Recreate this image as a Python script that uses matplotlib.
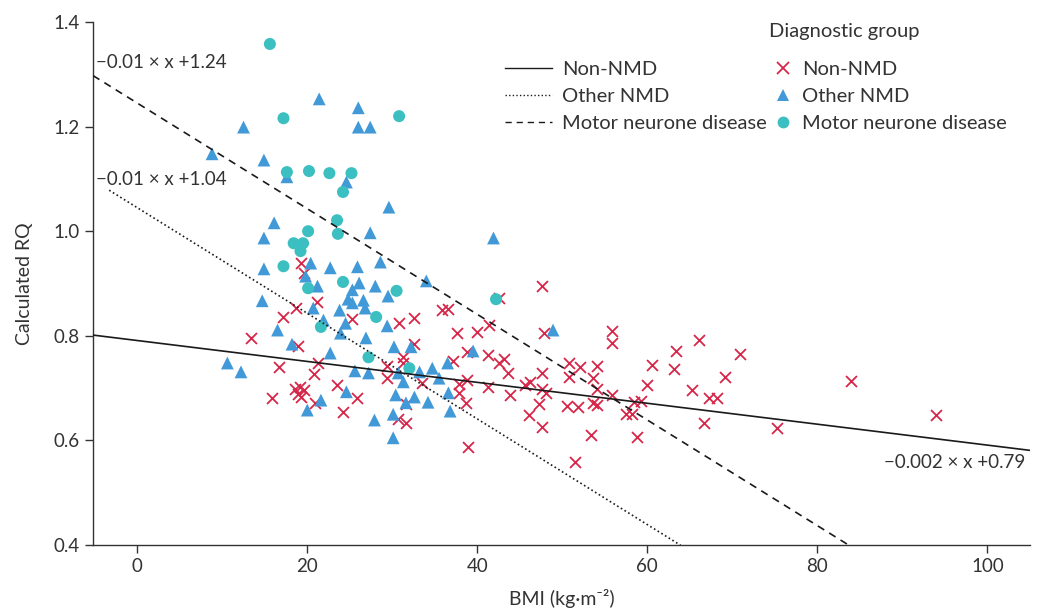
import numpy as np
import matplotlib
matplotlib.use("Agg")
import matplotlib.pyplot as plt
from matplotlib.lines import Line2D

plt.rcParams['font.family'] = ['Lato', 'DejaVu Sans']

# Data: BMI and calculated RQ per diagnostic group
non_nmd_bmi = [19.3, 19.6, 21.2, 18.7, 17.2, 25.3, 13.4, 18.9, 30.8, 32.6, 35.8, 36.6,
               16.7, 21.3, 20.8, 15.9, 18.6, 19.2, 19.6, 18.9, 19.3, 20.9, 23.5, 24.2,
               25.9, 29.4, 29.4, 31.3, 31.2, 32.5, 33.5, 31.6, 30.7, 31.6, 37.6, 37.1,
               37.8, 38.8, 37.9, 38.7, 38.9, 47.6, 42.6, 41.4, 40.0, 47.8, 55.8, 55.8,
               38.8, 41.3, 42.5, 43.1, 43.6, 41.3, 43.9, 45.6, 46.2, 47.6, 47.6, 48.1,
               47.3, 46.1, 47.6, 51.5, 50.8, 52.1, 54.1, 50.8, 53.6, 54.1, 50.5, 51.8,
               53.6, 54.1, 55.8, 53.4, 58.8, 58.4, 59.2, 57.5, 58.2, 60.0, 60.6, 63.1,
               63.4, 66.1, 70.9, 69.1, 65.3, 67.2, 68.2, 66.7, 75.3, 84.0, 94.0]
non_nmd_rq = [0.939, 0.920, 0.865, 0.853, 0.836, 0.832, 0.796, 0.780, 0.824, 0.834, 0.849, 0.851,
              0.740, 0.748, 0.727, 0.681, 0.698, 0.702, 0.696, 0.689, 0.683, 0.672, 0.706, 0.654,
              0.681, 0.742, 0.719, 0.759, 0.748, 0.784, 0.710, 0.670, 0.641, 0.633, 0.805, 0.752,
              0.708, 0.715, 0.691, 0.672, 0.587, 0.895, 0.872, 0.821, 0.807, 0.805, 0.809, 0.786,
              0.769, 0.763, 0.748, 0.756, 0.729, 0.702, 0.687, 0.706, 0.712, 0.729, 0.698, 0.691,
              0.670, 0.649, 0.626, 0.559, 0.748, 0.740, 0.742, 0.721, 0.719, 0.698, 0.666, 0.664,
              0.672, 0.668, 0.687, 0.610, 0.607, 0.673, 0.675, 0.650, 0.650, 0.706, 0.744, 0.737,
              0.771, 0.792, 0.765, 0.721, 0.696, 0.681, 0.681, 0.633, 0.624, 0.714, 0.649]

other_nmd_bmi = [8.8, 12.5, 21.4, 26.0, 26.0, 27.4, 14.9, 17.6, 24.6, 29.6, 16.1, 14.9,
                 27.4, 28.6, 34.0, 14.9, 20.4, 19.8, 22.7, 25.9, 21.2, 26.1, 28.0, 25.3,
                 29.5, 24.8, 25.3, 26.6, 26.8, 14.7, 20.7, 23.8, 21.9, 24.5, 23.9, 16.5,
                 18.2, 22.7, 12.2, 25.6, 24.6, 21.6, 20.0, 10.6, 27.2, 27.9, 30.1, 30.2,
                 32.2, 29.4, 26.9, 30.7, 31.3, 33.2, 34.7, 35.5, 36.5, 30.4, 32.6, 34.2,
                 31.6, 30.1, 36.6, 36.8, 39.5, 48.9, 41.9]
other_nmd_rq = [1.148, 1.199, 1.253, 1.236, 1.199, 1.199, 1.136, 1.104, 1.094, 1.046, 1.016, 0.987,
                0.997, 0.941, 0.905, 0.928, 0.939, 0.914, 0.930, 0.932, 0.895, 0.901, 0.895, 0.888,
                0.876, 0.870, 0.863, 0.868, 0.853, 0.867, 0.853, 0.849, 0.830, 0.824, 0.805, 0.811,
                0.784, 0.767, 0.731, 0.733, 0.693, 0.677, 0.658, 0.748, 0.729, 0.639, 0.605, 0.779,
                0.779, 0.819, 0.796, 0.729, 0.712, 0.731, 0.738, 0.719, 0.748, 0.687, 0.683, 0.673,
                0.672, 0.650, 0.691, 0.656, 0.771, 0.811, 0.987]

mnd_bmi = [15.6, 17.2, 30.8, 17.6, 20.2, 22.6, 25.2, 24.2, 18.4, 19.5, 19.2, 20.1,
           23.5, 23.6, 17.2, 20.1, 24.2, 21.6, 30.5, 28.1, 27.2, 32.0, 42.2]
mnd_rq = [1.358, 1.216, 1.220, 1.113, 1.115, 1.111, 1.111, 1.075, 0.977, 0.977, 0.962, 1.000,
          1.021, 0.995, 0.933, 0.891, 0.903, 0.817, 0.886, 0.836, 0.759, 0.738, 0.870]

# fitted lines: slope, intercept, x range
fit_names = ['Non-NMD', 'Other NMD', 'Motor neurone disease']
fit_slope = [-0.002, -0.0101, -0.0101]
fit_icept = [0.791, 1.045, 1.245]
fit_xrange = [(-5.2, 105), (-3.3, 63.9), (-5.2, 83.7)]
fit_labels = ['\u22120.002 \u00d7 x +0.79', '\u22120.01 \u00d7 x +1.04', '\u22120.01 \u00d7 x +1.24']
fit_styles = ['-', (0, (1, 1.6)), (0, (4.5, 3.5))]

red = '#d6264a'
blue = '#4299d7'
teal = '#3bbfc1'
txt = '#333333'
fs = 14.5

fig = plt.figure(figsize=(10.43, 6.13), dpi=100)
ax = fig.add_axes([0.0892, 0.1109, 0.8983, 0.8532])

ax.scatter(non_nmd_bmi, non_nmd_rq, marker='x', s=62, color=red, linewidths=1.3, zorder=2)
ax.scatter(other_nmd_bmi, other_nmd_rq, marker='^', s=85, color=blue, edgecolors='none', zorder=3)
ax.scatter(mnd_bmi, mnd_rq, marker='o', s=75, color=teal, edgecolors='none', zorder=4)

for slope, icept, (x0, x1), ls in zip(fit_slope, fit_icept, fit_xrange, fit_styles):
    xs = np.array([x0, x1])
    ax.plot(xs, slope * xs + icept, color='#1a1a1a', lw=1.2, linestyle=ls, zorder=5)

ax.text(-4.9, 1.322, fit_labels[2], fontsize=13.5, color=txt, va='center', ha='left')
ax.text(-4.9, 1.098, fit_labels[1], fontsize=13.5, color=txt, va='center', ha='left')
ax.text(104.5, 0.557, fit_labels[0], fontsize=13.5, color=txt, va='center', ha='right')

ax.set_xlim(-5.2, 105)
ax.set_ylim(0.4, 1.4)
ax.set_xticks([0, 20, 40, 60, 80, 100])
ax.set_yticks([0.4, 0.6, 0.8, 1.0, 1.2, 1.4])
ax.set_yticklabels(['0.4', '0.6', '0.8', '1.0', '1.2', '1.4'])
for s in ['top', 'right']:
    ax.spines[s].set_visible(False)
for s in ['left', 'bottom']:
    ax.spines[s].set_color('#333333')
    ax.spines[s].set_linewidth(1.0)
ax.tick_params(axis='both', labelsize=13.5, colors=txt, length=6, width=1.0, direction='out')
ax.set_xlabel('BMI (kg\u00b7m\u207b\u00b2)', fontsize=14, color=txt, labelpad=10)
ax.set_ylabel('Calculated RQ', fontsize=14, color=txt, labelpad=15)

line_handles = [Line2D([0], [0], color='#1a1a1a', lw=1.0, linestyle=ls) for ls in fit_styles]
leg1 = fig.legend(line_handles, fit_names, loc='upper left', bbox_to_anchor=(0.4842, 0.9005),
                  frameon=False, fontsize=fs, handlelength=2.35, handletextpad=0.5,
                  borderpad=0, borderaxespad=0, labelspacing=0.5, labelcolor=txt)

marker_handles = [
    Line2D([0], [0], marker='x', color=red, lw=0, markersize=8, markeredgewidth=1.3),
    Line2D([0], [0], marker='^', color=blue, lw=0, markersize=9, markeredgewidth=0),
    Line2D([0], [0], marker='o', color=teal, lw=0, markersize=8.5, markeredgewidth=0),
]
leg2 = fig.legend(marker_handles, ['Non-NMD', 'Other NMD', 'Motor neurone disease'],
                  loc='upper left', bbox_to_anchor=(0.7412, 0.9005),
                  frameon=False, fontsize=fs, handlelength=0.95, handletextpad=0.5,
                  borderpad=0, borderaxespad=0, labelspacing=0.5, labelcolor=txt)
fig.text(0.7373, 0.9478, 'Diagnostic group', fontsize=fs, color=txt, va='center', ha='left')

fig.savefig('out.png', dpi=100)
